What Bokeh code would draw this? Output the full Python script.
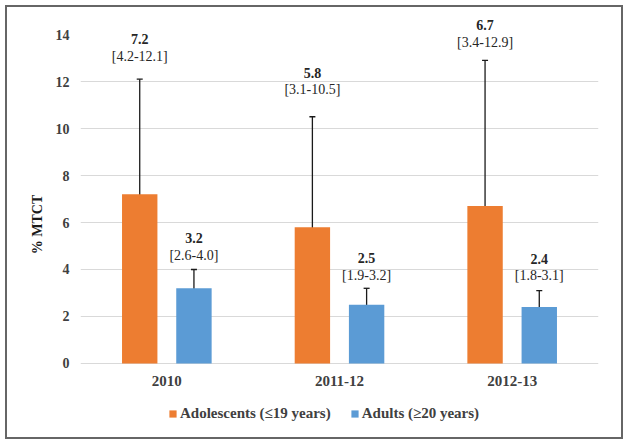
from bokeh.plotting import figure
from bokeh.models import (ColumnDataSource, FactorRange, Range1d, Whisker, TeeHead,
                          Legend, LegendItem, FixedTicker)
from bokeh.transform import dodge
from bokeh.core.properties import value
from bokeh.embed import file_html
from bokeh.resources import INLINE

# ---- data ----
categories = ["2010", "2011-12", "2012-13"]
adol_val = [7.2, 5.8, 6.7]
adol_lo = [4.2, 3.1, 3.4]
adol_hi = [12.1, 10.5, 12.9]
adult_val = [3.2, 2.5, 2.4]
adult_lo = [2.6, 1.9, 1.8]
adult_hi = [4.0, 3.2, 3.1]
y_ticks = [0, 2, 4, 6, 8, 10, 12, 14]

# label pixel offsets above the upper CI (style only)
adol_off = [23, 27, 18]
adult_off = [14, 13, 15]

FONT = "Liberation Serif"
ORANGE = "#ED7D31"
BLUE = "#5B9BD5"

def make_src(vals, lo, hi, off):
    return ColumnDataSource(dict(
        cat=categories, val=vals, lo=lo, hi=hi,
        vtxt=[f"{v:.1f}" for v in vals],
        ctxt=[f"[{a:.1f}-{b:.1f}]" for a, b in zip(lo, hi)],
        off_c=[-o for o in off],
        off_v=[-o - 17 for o in off],
    ))

src_a = make_src(adol_val, adol_lo, adol_hi, adol_off)
src_b = make_src(adult_val, adult_lo, adult_hi, adult_off)
src_c = ColumnDataSource(dict(cat=categories, y=[0] * len(categories)))

p = figure(x_range=FactorRange(*categories, range_padding=0),
           y_range=Range1d(-3.15, 14.98),
           width=614, height=430, output_backend="svg", toolbar_location=None,
           min_border_left=73, min_border_right=23, min_border_top=4,
           min_border_bottom=0)
p.margin = (7, 0, 0, 7)
p.styles = {"outline": "2px solid #666666", "outline-offset": "0px"}
p.outline_line_color = None
p.background_fill_color = "white"
p.border_fill_color = "white"

OFF = 0.157
W = 0.205
ra = p.vbar(x=dodge("cat", -OFF, range=p.x_range), top="val", width=W, bottom=0,
            source=src_a, fill_color=ORANGE, line_color=None)
rb = p.vbar(x=dodge("cat", OFF, range=p.x_range), top="val", width=W, bottom=0,
            source=src_b, fill_color=BLUE, line_color=None)

for src, d in ((src_a, -OFF), (src_b, OFF)):
    w = Whisker(source=src, base=dodge("cat", d, range=p.x_range), upper="hi", lower="lo",
                line_color="#1a1a1a", line_width=1.3,
                upper_head=TeeHead(size=6, line_color="#1a1a1a", line_width=1.3),
                lower_head=TeeHead(size=6, line_color="#1a1a1a", line_width=1.3))
    p.add_layout(w)
    p.text(x=dodge("cat", d, range=p.x_range), y="hi", text="ctxt", source=src,
           y_offset="off_c", text_align="center", text_baseline="middle",
           text_font=value(FONT), text_font_size="14px", text_color="#262626")
    p.text(x=dodge("cat", d, range=p.x_range), y="hi", text="vtxt", source=src,
           y_offset="off_v", text_align="center", text_baseline="middle",
           text_font=value(FONT), text_font_size="14px", text_font_style="bold",
           text_color="#262626")

# category labels under the zero line
p.text(x="cat", y="y", text="cat", source=src_c, y_offset=18,
       text_align="center", text_baseline="middle",
       text_font=value(FONT), text_font_size="15px", text_font_style="bold",
       text_color="#404040")

# grid
p.xgrid.grid_line_color = None
p.ygrid.ticker = FixedTicker(ticks=y_ticks[:-1])
p.ygrid.grid_line_color = "#D9D9D9"
p.ygrid.grid_line_width = 1

# axes
p.xaxis.visible = False
p.yaxis.ticker = FixedTicker(ticks=y_ticks)
p.yaxis.axis_line_color = None
p.yaxis.major_tick_line_color = None
p.yaxis.minor_tick_line_color = None
p.yaxis.major_label_standoff = 5
p.yaxis.major_label_text_font = FONT
p.yaxis.major_label_text_font_size = "14px"
p.yaxis.major_label_text_font_style = "bold"
p.yaxis.major_label_text_color = "#404040"
p.yaxis.axis_label = "% MTCT"
p.yaxis.axis_label_text_font = FONT
p.yaxis.axis_label_text_font_size = "14px"
p.yaxis.axis_label_text_font_style = "bold"
p.yaxis.axis_label_text_color = "#1a1a1a"
p.yaxis.axis_label_standoff = 8

legend = Legend(items=[LegendItem(label="Adolescents (≤19 years)", renderers=[ra]),
                       LegendItem(label="Adults (≥20 years)", renderers=[rb])],
                orientation="horizontal", location=(88, 15),
                label_text_font=FONT, label_text_font_size="15px",
                label_text_font_style="bold", label_text_color="#404040",
                glyph_width=9, glyph_height=9, label_standoff=3, spacing=19,
                padding=0, margin=0, border_line_color=None,
                background_fill_alpha=0)
p.add_layout(legend, "center")

open("out.html", "w").write(file_html(p, INLINE))
